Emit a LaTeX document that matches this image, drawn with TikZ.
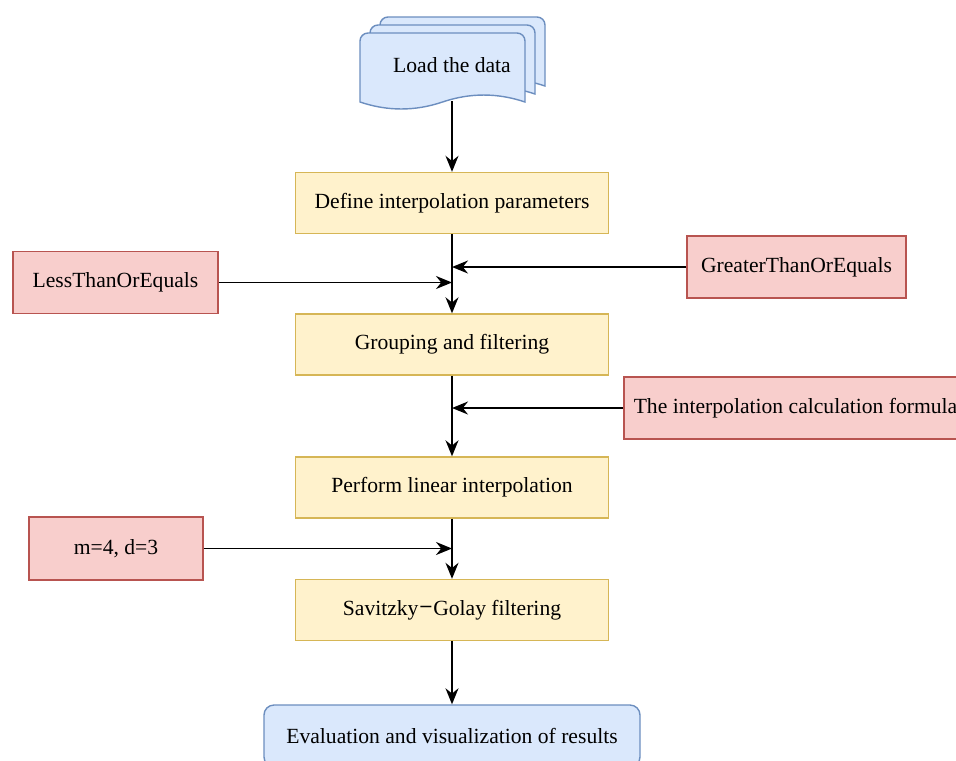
\documentclass[tikz,border=0pt]{standalone}
\usepackage{fontspec}
\setmainfont{Liberation Serif}
\usetikzlibrary{arrows.meta}

\definecolor{procfill}{HTML}{FFF2CC}
\definecolor{procdraw}{HTML}{D6B656}
\definecolor{parfill}{HTML}{F8CECC}
\definecolor{pardraw}{HTML}{B85450}
\definecolor{datfill}{HTML}{DAE8FC}
\definecolor{datdraw}{HTML}{6C8EBF}

\begin{document}
\begin{tikzpicture}[>={Stealth[length=3.2mm,width=2.6mm]}, line width=0.8pt, font=\fontsize{12.3}{14}\selectfont]
		\tikzstyle{process} = [rectangle, draw=procdraw, fill=procfill, minimum width=6.26cm, minimum height=1.22cm, inner sep=0pt, text centered]
		\tikzstyle{param} = [rectangle, draw=pardraw, fill=parfill, minimum height=1.24cm, inner sep=0pt, text centered]
		\tikzstyle{result} = [rectangle, draw=datdraw, fill=datfill, rounded corners=0.2cm, minimum width=7.52cm, minimum height=1.24cm, inner sep=0pt]
		\tikzstyle{page} = [draw=datdraw, fill=datfill]
		\tikzstyle{link} = [->, line width=1pt]
		\clip (0,0) rectangle (19.12,-15.2);
		% stack of data pages
		\foreach \k in {2,1,0}
			\draw[page, shift={(0.2*\k,0.16*\k)}] (7.2,-2.04) [rounded corners=0.16cm] -- (7.2,-0.66) -- (10.5,-0.66) [sharp corners] -- (10.5,-2.04)
				.. controls (9.95,-1.854) and (9.4,-1.854) .. (8.85,-2.04)
				.. controls (8.3,-2.226) and (7.75,-2.226) .. (7.2,-2.04) -- cycle;
		\node (load) at (9.04,-1.3) {Load the data};
		\coordinate (loadbot) at (9.04,-2.02);
		\node [process] (define) at (9.04,-4.06) {Define interpolation parameters};
		\node [process] (group) at (9.04,-6.89) {Grouping and filtering};
		\node [process] (perform) at (9.04,-9.75) {Perform linear interpolation};
		\node [process] (savgol) at (9.04,-12.2) {Savitzky{\fontspec{DejaVu Sans}\fontsize{10}{12}\selectfont\raisebox{0.3ex}{−}}Golay filtering};
		\node [result] (evaluate) at (9.04,-14.72) {Evaluation and visualization of results};
		\node [param, minimum width=4.1cm] (less) at (2.31,-5.65) {LessThanOrEquals};
		\node [param, minimum width=4.38cm] (greater) at (15.93,-5.34) {GreaterThanOrEquals};
		\node [param, minimum width=6.86cm] (formula) at (15.91,-8.16) {The interpolation calculation formula};
		\node [param, minimum width=3.48cm, minimum height=1.26cm] (window) at (2.32,-10.97) {m=4, d=3};
		\draw [link] (loadbot) to (define);
		\draw [link] (define) to (group);
		\draw [link] (group) to (perform);
		\draw [link] (perform) to (savgol);
		\draw [link] (savgol) to (evaluate);
		\draw [link] (less) to (less -| define);
		\draw [link] (greater) to (greater -| define);
		\draw [link] (formula) to (formula -| define);
		\draw [link] (window) to (window -| define);
	\end{tikzpicture}
\end{document}
